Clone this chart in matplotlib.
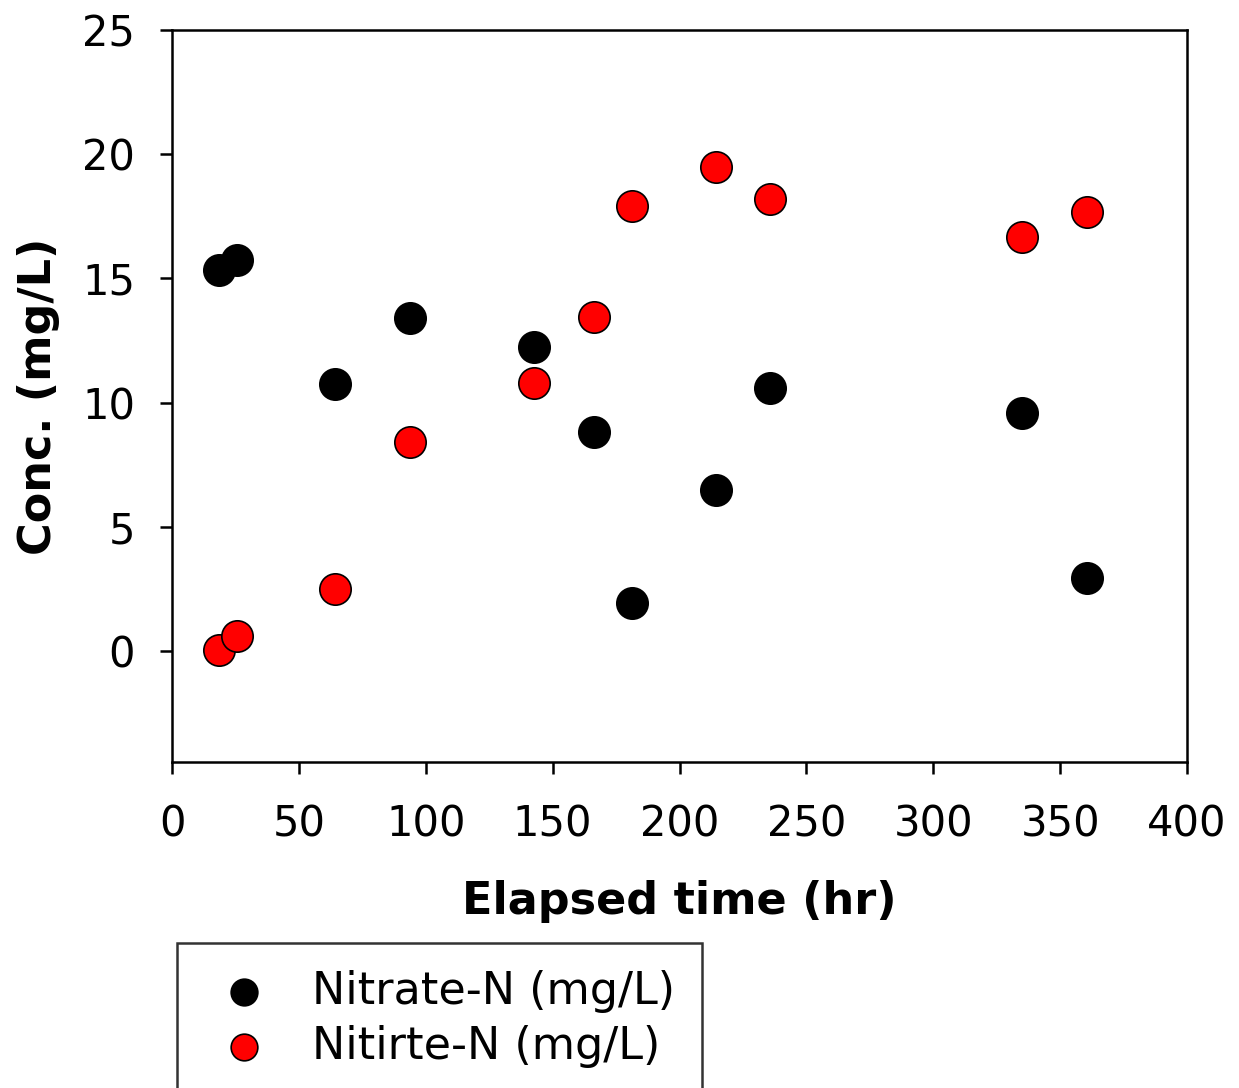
import matplotlib
matplotlib.use('Agg')
import matplotlib.pyplot as plt

# Datos
tiempo = [18.5, 25.6, 64.2, 93.8, 142.7, 166.3, 181.3, 214.4, 235.7, 335.0, 360.6]
nitrato = [15.34, 15.74, 10.75, 13.4, 12.24, 8.82, 1.93, 6.48, 10.59, 9.58, 2.94]
nitrito = [0.04, 0.6, 2.5, 8.41, 10.79, 13.45, 17.9, 19.5, 18.2, 16.67, 17.67]

x_ticks = [0, 50, 100, 150, 200, 250, 300, 350, 400]
y_ticks = [0, 5, 10, 15, 20, 25]

plt.rcParams['font.family'] = ['DejaVu Sans']

fig = plt.figure(figsize=(12.39, 10.88), dpi=100)
ax = fig.add_axes([172/1239, 1 - 762/1088, (1187-172)/1239, (762-30)/1088])

ax.scatter(tiempo, nitrato, s=510, c='black', edgecolors='black', linewidths=1.2,
           label='Nitrate-N (mg/L)', zorder=3)
ax.scatter(tiempo, nitrito, s=510, c='#ff0000', edgecolors='black', linewidths=1.2,
           label='Nitirte-N (mg/L)', zorder=3)

ax.set_xlim(0, 400)
ax.set_ylim(-4.47, 25)
ax.set_xticks(x_ticks)
ax.set_yticks(y_ticks)
ax.tick_params(direction='out', length=8.6, width=1.8, labelsize=30)
ax.tick_params(axis='x', pad=21)
ax.tick_params(axis='y', pad=18)
for s in ax.spines.values():
    s.set_linewidth(1.8)

ax.set_xlabel('Elapsed time (hr)', fontsize=32, fontweight='bold', labelpad=25)
ax.set_ylabel('Conc. (mg/L)', fontsize=32, fontweight='bold', labelpad=16)

# Leyenda abajo a la izquierda, cortada por el borde
leg = fig.legend(loc='upper left', bbox_to_anchor=(177/1239, 1 - 943/1088),
                 fontsize=32, frameon=True, fancybox=False, edgecolor='black',
                 markerscale=0.85, handlelength=1.8, handletextpad=0.64,
                 borderpad=0.6, labelspacing=0.28, borderaxespad=0)
leg.get_frame().set_linewidth(1.8)

fig.savefig('out.png', dpi=100)
